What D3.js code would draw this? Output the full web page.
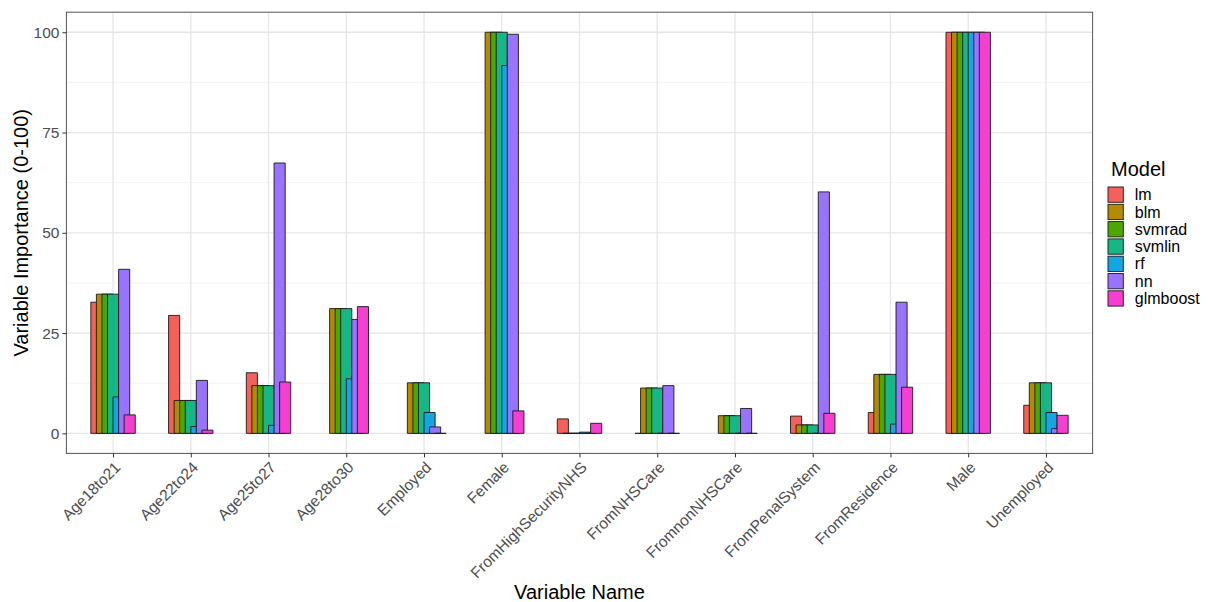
<!DOCTYPE html>
<html>
<head>
<meta charset="utf-8">
<script src="https://cdn.jsdelivr.net/npm/d3@7"></script>
<style>
  html, body { margin: 0; padding: 0; background: #fff; }
  svg { display: block; font-family: "Liberation Sans", Arial, sans-serif; }
</style>
</head>
<body>
<svg id="chart" width="1208" height="602"></svg>
<script>
// Variable importance (0-100) for each predictor, per model.
const variables = ["Age18to21", "Age22to24", "Age25to27", "Age28to30", "Employed", "Female",
  "FromHighSecurityNHS", "FromNHSCare", "FromnonNHSCare", "FromPenalSystem", "FromResidence",
  "Male", "Unemployed"];
const models = ["lm", "blm", "svmrad", "svmlin", "rf", "nn", "glmboost"];

// null = variable not reported by that model
const lm       = [32.7, 29.4, 15.1, null, null, null, 3.6, 0, null, 4.3, 5.2, 100, 7.0];
const blm      = [34.7, 8.2, 11.9, 31.1, 12.6, 100, 0, 11.3, 4.4, 2.1, 14.7, 100, 12.6];
const svmrad   = [34.7, 8.2, 11.9, 31.1, 12.6, 100, 0, 11.3, 4.4, 2.1, 14.7, 100, 12.6];
const svmlin   = [34.7, 8.2, 11.9, 31.1, 12.6, 100, 0, 11.3, 4.4, 2.1, 14.7, 100, 12.6];
const rf       = [9.1, 1.7, 2.0, 13.6, 5.2, 91.7, 0.3, 0, 0, 0, 2.3, 100, 5.2];
const nn       = [40.9, 13.2, 67.4, 28.4, 1.6, 99.5, 0, 11.9, 6.2, 60.2, 32.7, 100, 1.2];
const glmboost = [4.6, 0.8, 12.8, 31.6, 0, 5.6, 2.5, 0, 0, 5.0, 11.5, 100, 4.5];

const yTicks = [0, 25, 50, 75, 100];
const yMinor = [12.5, 37.5, 62.5, 87.5];

const seriesValues = { lm, blm, svmrad, svmlin, rf, nn, glmboost };
const colors = ["#F5605A", "#B38A00", "#4CA800", "#16B784", "#15A5E3", "#9873FF", "#F43FD0"];

const svg = d3.select("#chart");
const panel = { left: 66.4, right: 1092.6, top: 12.2, bottom: 453.4 };
const font = "Liberation Sans, Arial, sans-serif";

const x = d3.scalePoint().domain(variables).range([panel.left, panel.right]).padding(0.6);
const y = d3.scaleLinear().domain([-5, 105]).range([panel.bottom, panel.top]);
const color = d3.scaleOrdinal().domain(models).range(colors);

// dodge: slots 0.5/7 of a category step apart, bars 1/7 of a step wide
const step = x.step();
const slot = step * 0.5 / models.length;
const barW = step / models.length;
const offset = d3.scaleLinear().domain([0, models.length - 1])
  .range([-slot * (models.length - 1) / 2, slot * (models.length - 1) / 2]);

// gridlines
const grid = svg.append("g");
grid.selectAll("line.minor").data(yMinor).join("line")
  .attr("x1", panel.left).attr("x2", panel.right)
  .attr("y1", d => y(d)).attr("y2", d => y(d))
  .attr("stroke", "#f0f0f0").attr("stroke-width", 0.8);
grid.selectAll("line.major").data(yTicks).join("line")
  .attr("x1", panel.left).attr("x2", panel.right)
  .attr("y1", d => y(d)).attr("y2", d => y(d))
  .attr("stroke", "#e6e6e6").attr("stroke-width", 1.3);
grid.selectAll("line.vx").data(variables).join("line")
  .attr("x1", d => x(d)).attr("x2", d => x(d))
  .attr("y1", panel.top).attr("y2", panel.bottom)
  .attr("stroke", "#e6e6e6").attr("stroke-width", 1.3);

// bars, drawn in model order within each variable; outlined paths so that
// zero-valued bars still show as a line on the baseline
const rows = [];
variables.forEach((v, i) => {
  models.forEach((m, j) => {
    const val = seriesValues[m][i];
    if (val !== null) rows.push({ variable: v, model: m, j, value: val });
  });
});
svg.append("g").selectAll("path").data(rows).join("path")
  .attr("d", d => {
    const x0 = x(d.variable) + offset(d.j) - barW / 2;
    const y0 = y(0), y1 = y(d.value);
    return `M${x0},${y0}H${x0 + barW}V${y1}H${x0}Z`;
  })
  .attr("fill", d => color(d.model))
  .attr("stroke", "#1a1a1a")
  .attr("stroke-width", 0.9);

// panel border
svg.append("rect")
  .attr("x", panel.left).attr("y", panel.top)
  .attr("width", panel.right - panel.left).attr("height", panel.bottom - panel.top)
  .attr("fill", "none").attr("stroke", "#555").attr("stroke-width", 1);

// y axis
const yAxis = svg.append("g")
  .attr("transform", `translate(${panel.left},0)`)
  .call(d3.axisLeft(y).tickValues(yTicks).tickSize(4).tickPadding(3));
yAxis.select(".domain").remove();
yAxis.selectAll(".tick line").attr("stroke", "#333");
yAxis.selectAll(".tick text").attr("fill", "#4d4d4d").style("font-size", "15.5px")
  .style("font-family", font);

// x axis
const xAxis = svg.append("g")
  .attr("transform", `translate(0,${panel.bottom})`)
  .call(d3.axisBottom(x).tickSize(4).tickPadding(3));
xAxis.select(".domain").remove();
xAxis.selectAll(".tick line").attr("stroke", "#333");
xAxis.selectAll(".tick text")
  .attr("fill", "#4d4d4d").style("font-size", "15.5px")
  .style("font-family", font)
  .attr("text-anchor", "end")
  .attr("dy", null).attr("y", null)
  .attr("transform", "translate(5,12) rotate(-45)")
  .attr("dominant-baseline", "middle");

// axis titles
svg.append("text")
  .attr("x", (panel.left + panel.right) / 2).attr("y", 599)
  .attr("text-anchor", "middle").style("font-size", "20px").attr("fill", "#000")
  .text("Variable Name");
svg.append("text")
  .attr("transform", `translate(28,${(panel.top + panel.bottom) / 2}) rotate(-90)`)
  .attr("text-anchor", "middle").style("font-size", "20px").attr("fill", "#000")
  .text("Variable Importance (0-100)");

// legend
const legend = svg.append("g").attr("transform", "translate(1107,186)");
legend.append("text").attr("x", 4).attr("y", -10).style("font-size", "20px").text("Model");
const keyH = 17.3;
const item = legend.selectAll("g.item").data(models).join("g")
  .attr("transform", (d, i) => `translate(0,${i * keyH})`);
item.append("rect")
  .attr("x", 1).attr("y", 1).attr("width", keyH - 2).attr("height", keyH - 2)
  .attr("fill", d => color(d)).attr("stroke", "#1a1a1a").attr("stroke-width", 0.9);
item.append("text")
  .attr("x", keyH + 10.5).attr("y", keyH / 2).attr("dy", "0.35em")
  .style("font-size", "16px").attr("fill", "#000")
  .text(d => d);
</script>
</body>
</html>
